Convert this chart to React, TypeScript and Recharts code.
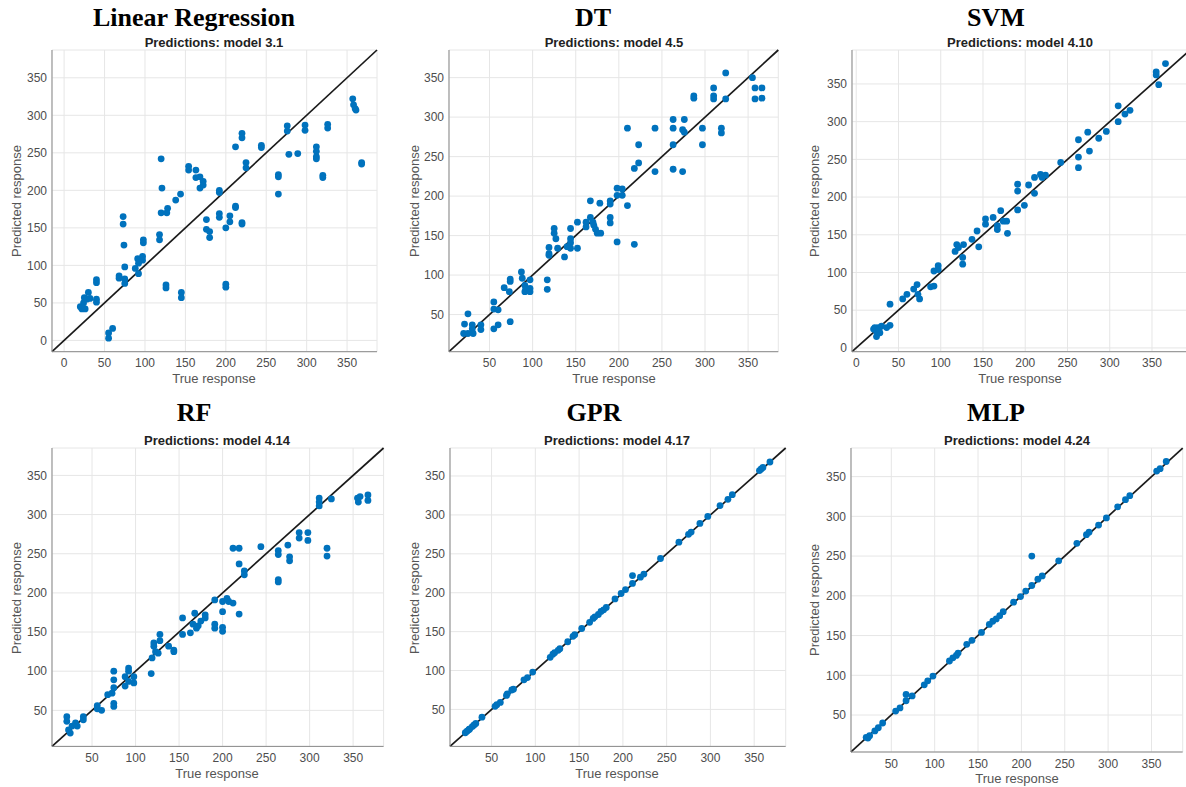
import { ScatterChart, Scatter, XAxis, YAxis, CartesianGrid, ReferenceLine } from "recharts";

type Pt = { x: number; y: number };
const p = (x: number, y: number): Pt => ({ x, y });

// (true response, predicted response)
const linearPoints: Pt[] = [
  p(20, 45), p(22, 42), p(24, 50), p(25, 57), p(26, 42), p(28, 55), p(30, 64), p(32, 56),
  p(40, 81), p(40, 77), p(40, 55), p(40, 51), p(55, 10), p(55, 3), p(60, 16), p(68, 86), p(68, 83),
  p(73, 165), p(73, 155), p(74, 127), p(75, 98), p(75, 82), p(75, 76), p(88, 96), p(91, 109),
  p(92, 103), p(92, 89), p(97, 112), p(97, 107), p(98, 134), p(98, 130), p(118, 141), p(118, 134),
  p(120, 242), p(121, 203), p(120, 170), p(128, 176), p(127, 170), p(126, 74), p(126, 70),
  p(138, 187), p(144, 195), p(145, 64), p(145, 57), p(154, 232), p(154, 227), p(163, 227),
  p(163, 217), p(168, 218), p(168, 203), p(172, 212), p(172, 207), p(176, 161), p(176, 148),
  p(180, 145), p(180, 137), p(192, 200), p(192, 197), p(192, 169), p(192, 164), p(200, 150),
  p(200, 75), p(200, 71), p(205, 166), p(205, 158), p(212, 258), p(212, 179), p(212, 177),
  p(220, 276), p(220, 270), p(220, 157), p(220, 155), p(225, 237), p(225, 230), p(244, 260),
  p(244, 257), p(265, 221), p(265, 218), p(265, 195), p(276, 286), p(276, 279), p(278, 248),
  p(289, 249), p(298, 287), p(298, 280), p(312, 258), p(312, 252), p(312, 245), p(312, 242),
  p(320, 220), p(320, 217), p(326, 288), p(326, 283), p(357, 322), p(358, 314), p(360, 309),
  p(361, 307), p(368, 237), p(368, 235),
];

const dtPoints: Pt[] = [
  p(21, 38), p(25, 51), p(20, 26), p(25, 26), p(30, 37), p(30, 32), p(31, 26), p(40, 37), p(40, 31),
  p(55, 66), p(55, 57), p(55, 32), p(60, 56), p(60, 37), p(67, 84), p(73, 79), p(74, 95), p(74, 92),
  p(74, 41), p(87, 104), p(88, 96), p(91, 87), p(91, 79), p(97, 94), p(97, 83), p(97, 79), p(92, 83),
  p(117, 94), p(117, 82), p(119, 135), p(119, 127), p(119, 125), p(125, 159), p(125, 153),
  p(127, 146), p(129, 134), p(137, 123), p(140, 136), p(144, 146), p(144, 141), p(144, 159),
  p(144, 134), p(152, 167), p(152, 134), p(162, 167), p(162, 161), p(167, 194), p(167, 173),
  p(170, 167), p(171, 163), p(173, 158), p(175, 153), p(179, 153), p(178, 191), p(190, 194),
  p(190, 190), p(190, 173), p(190, 166), p(198, 142), p(198, 210), p(198, 201), p(204, 209),
  p(204, 201), p(210, 188), p(210, 286), p(218, 139), p(218, 235), p(223, 242), p(223, 265),
  p(242, 286), p(242, 231), p(263, 297), p(263, 286), p(263, 265), p(263, 234), p(274, 231),
  p(274, 284), p(276, 281), p(276, 297), p(287, 327), p(287, 324), p(297, 286), p(297, 265),
  p(310, 337), p(310, 327), p(310, 323), p(319, 286), p(319, 280), p(324, 356), p(324, 323),
  p(355, 350), p(358, 337), p(358, 323), p(366, 337), p(366, 324),
];

const svmPoints: Pt[] = [
  p(20.5, 25), p(24, 15), p(26, 27), p(28, 20), p(30, 29), p(24, 22), p(22, 27), p(27, 24),
  p(40, 58), p(40, 30), p(36, 27), p(55, 65), p(60, 71), p(68, 78), p(72, 84), p(75, 65), p(73, 71),
  p(88, 81), p(92, 82), p(92, 102), p(97, 109), p(97, 104), p(117, 128), p(119, 137), p(121, 133),
  p(126, 120), p(126, 111), p(127, 137), p(137, 144), p(143, 155), p(145, 134), p(153, 171),
  p(153, 164), p(162, 173), p(167, 162), p(167, 157), p(171, 182), p(174, 168), p(178, 168),
  p(179, 152), p(191, 217), p(191, 208), p(191, 183), p(199, 189), p(204, 216), p(211, 205),
  p(211, 226), p(218, 230), p(220, 226), p(224, 229), p(242, 246), p(263, 276), p(263, 253),
  p(263, 239), p(274, 286), p(276, 261), p(287, 278), p(296, 287), p(310, 321), p(310, 300),
  p(318, 310), p(324, 315), p(355, 366), p(355, 362), p(358, 349), p(366, 377),
];

const rfPoints: Pt[] = [
  p(21, 42), p(21, 36), p(25, 21), p(27, 30), p(31, 34), p(33, 30), p(40, 42), p(40, 38), p(23, 25),
  p(56, 56), p(56, 52), p(61, 50), p(68, 70), p(75, 79), p(75, 100), p(75, 89), p(75, 59), p(75, 55),
  p(73, 72), p(88, 81), p(88, 93), p(92, 104), p(92, 100), p(92, 87), p(98, 93), p(98, 85),
  p(118, 97), p(119, 117), p(121, 136), p(121, 132), p(123, 125), p(126, 123), p(128, 147),
  p(128, 139), p(138, 132), p(144, 127), p(144, 125), p(154, 168), p(154, 147), p(163, 149),
  p(166, 160), p(168, 174), p(170, 155), p(172, 158), p(175, 164), p(180, 168), p(180, 172),
  p(191, 191), p(191, 160), p(191, 155), p(200, 189), p(200, 176), p(200, 156), p(200, 151),
  p(205, 193), p(207, 189), p(212, 187), p(212, 257), p(219, 257), p(219, 237), p(219, 173),
  p(225, 228), p(225, 223), p(244, 259), p(264, 254), p(264, 249), p(264, 217), p(264, 214),
  p(275, 261), p(277, 246), p(277, 241), p(288, 277), p(288, 270), p(298, 277), p(298, 267),
  p(311, 321), p(311, 316), p(311, 311), p(320, 257), p(320, 247), p(325, 320), p(355, 321),
  p(356, 316), p(358, 323), p(367, 325), p(367, 318),
];

const gprPoints: Pt[] = [
  p(20, 20), p(22, 22), p(24, 24), p(25, 25), p(28, 28), p(30, 30), p(32, 32), p(39, 40), p(54, 54),
  p(56, 56), p(60, 59), p(67, 68), p(68, 70), p(73, 75), p(75, 76), p(87, 88), p(91, 91), p(97, 98),
  p(117, 117), p(120, 121), p(122, 123), p(126, 126), p(128, 128), p(137, 137), p(143, 144),
  p(145, 146), p(153, 154), p(162, 162), p(166, 167), p(168, 169), p(172, 172), p(175, 176),
  p(178, 178), p(181, 181), p(191, 192), p(198, 199), p(203, 204), p(211, 212), p(211, 222),
  p(220, 220), p(224, 224), p(243, 244), p(264, 265), p(275, 275), p(278, 278), p(288, 289),
  p(297, 298), p(311, 312), p(320, 320), p(325, 326), p(356, 357), p(358, 359), p(360, 361),
  p(368, 368),
];

const mlpPoints: Pt[] = [
  p(21, 22), p(23, 21), p(25, 24), p(31, 30), p(35, 34), p(40, 40), p(55, 55), p(60, 59), p(67, 76),
  p(67, 68), p(74, 74), p(88, 88), p(92, 93), p(98, 99), p(117, 118), p(121, 122), p(125, 125),
  p(127, 128), p(137, 139), p(143, 144), p(154, 154), p(163, 164), p(167, 168), p(171, 171),
  p(175, 175), p(179, 180), p(191, 192), p(199, 199), p(205, 206), p(212, 213), p(212, 250),
  p(219, 221), p(224, 225), p(243, 244), p(264, 266), p(275, 277), p(278, 280), p(289, 289),
  p(298, 298), p(311, 312), p(320, 321), p(325, 326), p(356, 357), p(360, 360), p(367, 369),
];

const ticksFrom0 = [0, 50, 100, 150, 200, 250, 300, 350];
const ticksFrom50 = [50, 100, 150, 200, 250, 300, 350];

// l/t/r/b = plot box in page pixels; the SVM box runs a little past the right edge, as in the source
const panels = [
  { title: "Linear Regression", model: "3.1", data: linearPoints, domain: [-15, 387], ticks: ticksFrom0,
    l: 51.7, t: 50, r: 376.7, b: 351.7, titleX: 194, titleY: 18, subX: 214, subY: 42, xLabY: 378, yLabX: 16 },
  { title: "DT", model: "4.5", data: dtPoints, domain: [3, 385], ticks: ticksFrom50,
    l: 449, t: 50, r: 778.3, b: 351.7, titleX: 593, titleY: 18, subX: 614, subY: 42, xLabY: 378, yLabX: 414 },
  { title: "SVM", model: "4.10", data: svmPoints, domain: [-5, 395], ticks: ticksFrom0,
    l: 851.7, t: 50, r: 1189.7, b: 351.7, titleX: 996, titleY: 18, subX: 1020, subY: 42, xLabY: 378, yLabX: 814 },
  { title: "RF", model: "4.14", data: rfPoints, domain: [4, 385], ticks: ticksFrom50,
    l: 51.7, t: 448.3, r: 383.3, b: 746.7, titleX: 194, titleY: 413, subX: 217, subY: 440, xLabY: 773, yLabX: 16 },
  { title: "GPR", model: "4.17", data: gprPoints, domain: [2.5, 386], ticks: ticksFrom50,
    l: 450, t: 448.3, r: 785.7, b: 746.7, titleX: 594, titleY: 413, subX: 617, subY: 440, xLabY: 773, yLabX: 414 },
  { title: "MLP", model: "4.24", data: mlpPoints, domain: [3.5, 386], ticks: ticksFrom50,
    l: 851, t: 448.3, r: 1182.7, b: 752.3, titleX: 996, titleY: 413, subX: 1017, subY: 440, xLabY: 778, yLabX: 814 },
];

const BLUE = "#0072BD";
const SANS = "Liberation Sans, Arial, sans-serif";
const TICK = { fontSize: 12, fill: "#4d4d4d", fontFamily: SANS };

const centered = (x: number, y: number, extra: React.CSSProperties = {}): React.CSSProperties => ({
  position: "absolute",
  left: x,
  top: y,
  transform: "translate(-50%, -50%)",
  whiteSpace: "nowrap",
  lineHeight: 1,
  ...extra,
});

const Panel = ({ cfg }: { cfg: (typeof panels)[number] }) => {
  const w = cfg.r - cfg.l;
  const h = cfg.b - cfg.t;
  const [d0, d1] = cfg.domain;
  return (
    <>
      <div style={centered(cfg.titleX, cfg.titleY, { fontFamily: "Liberation Serif, Times New Roman, serif", fontWeight: 700, fontSize: 26, color: "#000" })}>
        {cfg.title}
      </div>
      <div style={centered(cfg.subX, cfg.subY, { fontFamily: SANS, fontWeight: 700, fontSize: 13, color: "#222" })}>
        Predictions: model {cfg.model}
      </div>
      <div style={{ position: "absolute", left: cfg.l - 50, top: cfg.t - 10 }}>
        <ScatterChart width={w + 60} height={h + 40} margin={{ top: 10, right: 10, bottom: 0, left: 0 }}>
          <CartesianGrid stroke="#e6e6e6" />
          <XAxis type="number" dataKey="x" domain={[d0, d1]} ticks={cfg.ticks} allowDataOverflow
            height={30} tickLine={false} tickSize={5} tickMargin={2} axisLine={{ stroke: "#8a8a8a" }} tick={TICK} />
          <YAxis type="number" dataKey="y" domain={[d0, d1]} ticks={cfg.ticks} allowDataOverflow
            width={50} tickLine={false} tickSize={3} tickMargin={2} axisLine={{ stroke: "#8a8a8a" }} tick={TICK} />
          <Scatter data={cfg.data} isAnimationActive={false}
            shape={(s: any) => <circle cx={s.cx} cy={s.cy} r={3.4} fill={BLUE} />} />
          <ReferenceLine segment={[{ x: d0, y: d0 }, { x: d1, y: d1 }]} stroke="#1a1a1a" strokeWidth={1.7} />
        </ScatterChart>
      </div>
      <div style={centered(cfg.subX, cfg.xLabY, { fontFamily: SANS, fontSize: 13, color: "#555" })}>
        True response
      </div>
      <div style={centered(cfg.yLabX, (cfg.t + cfg.b) / 2, { fontFamily: SANS, fontSize: 13, color: "#555", transform: "translate(-50%, -50%) rotate(-90deg)" })}>
        Predicted response
      </div>
    </>
  );
};

export default function App() {
  return (
    <div style={{ position: "absolute", left: 0, top: 0, width: 1186, height: 787, overflow: "hidden", background: "#fff" }}>
      {panels.map((cfg) => (
        <Panel key={cfg.title} cfg={cfg} />
      ))}
    </div>
  );
}
